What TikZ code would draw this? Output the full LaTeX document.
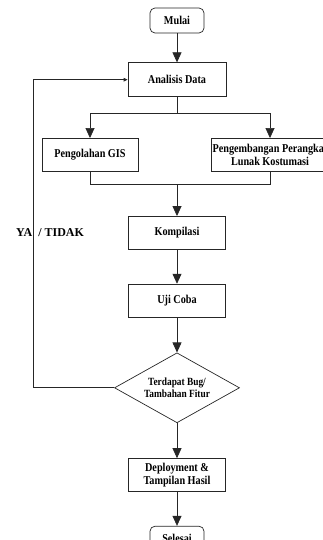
\documentclass[tikz,border=0pt]{standalone}
\usepackage{fontspec}
\setmainfont{Liberation Serif}[FakeStretch=0.85]
\newfontfamily\plainserif{Liberation Serif}
\usetikzlibrary{positioning,shapes.geometric,arrows.meta}

\tikzset{
  flowline/.style={draw=black!85, line width=0.7pt},
  flowarrow/.style={flowline, -{Triangle[width=9pt,length=10pt]}},
  backarrow/.style={flowline, -{Triangle[width=3.5pt,length=4pt]}},
  stepbox/.style={draw=black!85, line width=0.7pt, rectangle, align=center,
    inner sep=1pt, minimum width=97pt, minimum height=33pt,
    font=\fontsize{12}{12.5}\selectfont\bfseries},
  terminal/.style={stepbox, rounded corners=5pt, minimum width=54pt, minimum height=25pt},
  decision/.style={draw=black!85, line width=0.7pt, diamond, align=center,
    inner sep=0pt, shape aspect=1.79, minimum width=125pt, minimum height=70pt,
    font=\fontsize{11}{12.5}\selectfont\bfseries},
}

\begin{document}
\begin{tikzpicture}

    \useasboundingbox (0,0) rectangle (322pt,-540pt);

    % Define nodes

    \node[terminal]                                   (mulai) at (177pt,-20.5pt) {Mulai}; %
    \node[stepbox, below=29pt of mulai, minimum width=98pt, minimum height=34pt] (analisis){Analisis Data}; %
    \node[stepbox, below=41pt of analisis, xshift=-87pt, minimum width=96pt] (gis){Pengolahan GIS}; %
    \node[stepbox, below=41pt of analisis, xshift=93pt, minimum width=116pt] (custom){Pengembangan Perangkat\\Lunak Kostumasi}; %
    \node[stepbox, below=119pt of analisis]           (kompilasi){Kompilasi}; %
    \node[stepbox, below=34pt of kompilasi]           (ujicoba){Uji Coba}; %
    \node[decision, below=35pt of ujicoba]            (cekbug){Terdapat Bug/\\Tambahan Fitur}; %
    \node[stepbox, below=35pt of cekbug]              (deploy){Deployment \&\\Tampilan Hasil}; %
    \node[terminal, below=34pt of deploy]             (selesai){Selesai}; %

    % Label of the loop
    \node[font=\plainserif\fontsize{12}{12.5}\selectfont\bfseries] (yatidak) at (50pt,-233pt) {YA~~/ TIDAK}; %

    % Branch points
    \coordinate[below=16pt of analisis.south]         (split); %
    \coordinate[above=32pt of kompilasi.north]        (join); %
    \coordinate[left=81pt of cekbug.west]             (back); %

    % Connect the nodes
    \draw[flowarrow] (mulai) -- (analisis);
    \draw[flowline]  (analisis) -- (split);
    \draw[flowarrow] (split) -| (gis);
    \draw[flowarrow] (split) -| (custom);
    \draw[flowline]  (gis.south) |- (join) -| (custom.south);
    \draw[flowarrow] (join) -- (kompilasi);
    \draw[flowarrow] (kompilasi) -- (ujicoba);
    \draw[flowarrow] (ujicoba) -- (cekbug);
    \draw[flowarrow] (cekbug) -- (deploy);
    \draw[flowarrow] (deploy) -- (selesai);
    \draw[backarrow] (cekbug.west) -- (back) |- (analisis.west);

\end{tikzpicture}
\end{document}
